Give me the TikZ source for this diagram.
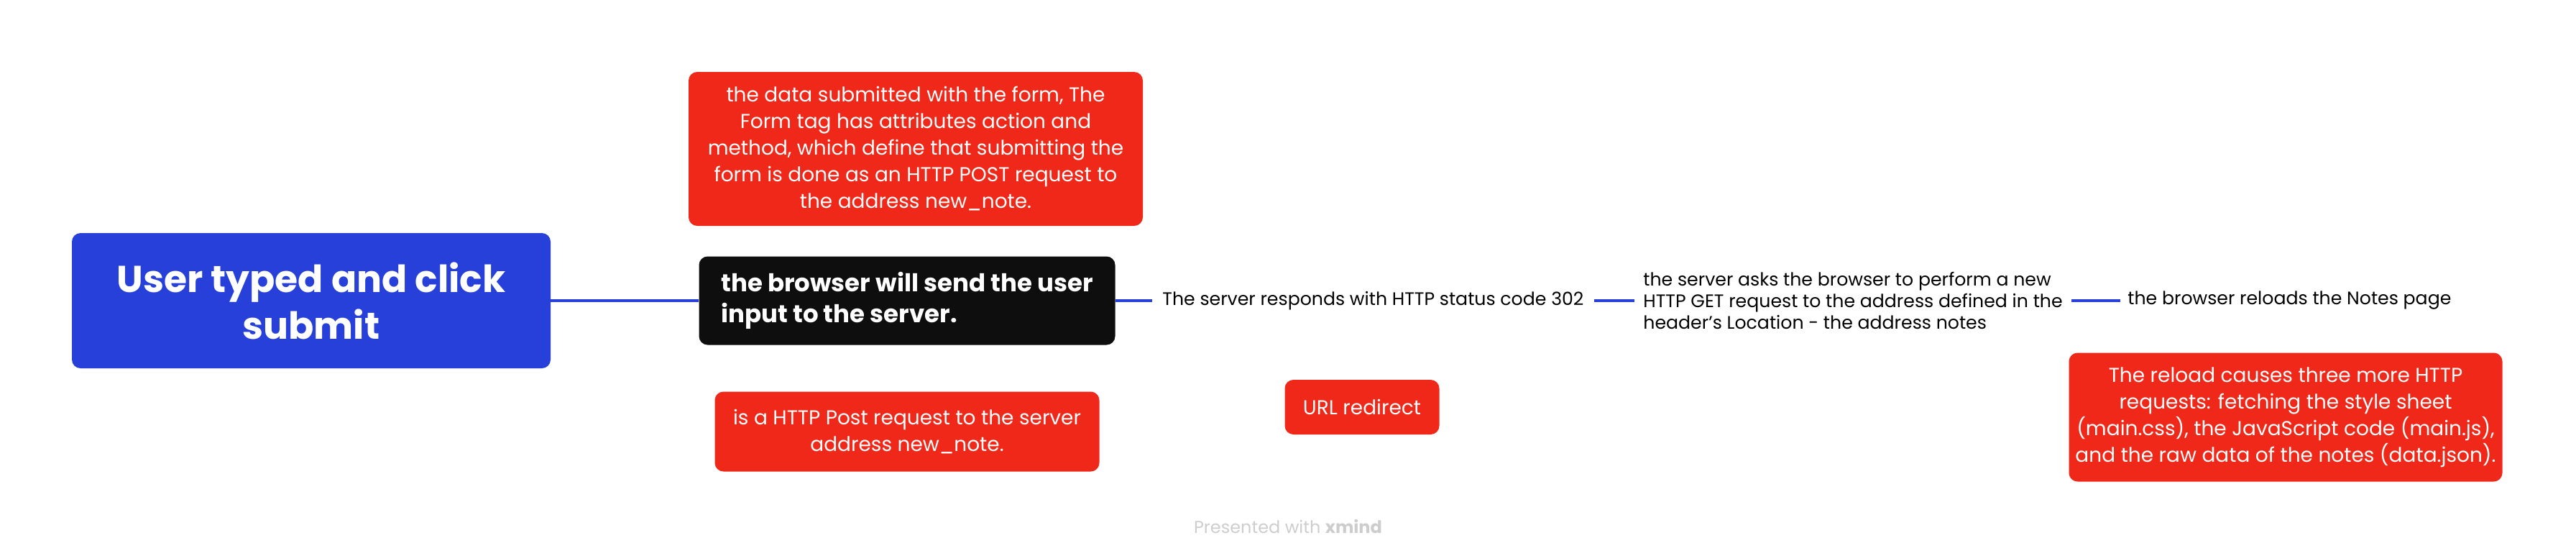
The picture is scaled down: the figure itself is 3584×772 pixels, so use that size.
\documentclass[tikz,border=0pt]{standalone}
\usepackage{fontspec}
\setmainfont{Poppins}
\usetikzlibrary{positioning}

\definecolor{mapblue}{RGB}{39,64,217}
\definecolor{mapred}{RGB}{240,40,25}
\definecolor{mapblack}{RGB}{14,14,14}
\definecolor{credgray}{RGB}{205,205,205}

\begin{document}
\begin{tikzpicture}[x=0.5pt, y=-0.5pt,
    topic/.style={rounded corners=6pt, inner sep=0pt, align=center, text=white},
    notebox/.style={topic, fill=mapred, font=\fontsize{14}{18.5}\selectfont},
    plain/.style={inner xsep=7pt, inner ysep=0pt, anchor=west, align=left, font=\fontsize{12.6}{15.2}\selectfont},
    link/.style={mapblue, line width=2pt}]
\useasboundingbox (0,0) rectangle (3584,772);

% --- Central topic ---
\node[topic, fill=mapblue, minimum width=333pt, minimum height=94pt,
      font=\fontsize{26}{32.5}\selectfont\bfseries] (user) at (433,418)
      {User typed and click\\submit};

% --- Main branch ---
\node[topic, fill=mapblack, align=left, minimum width=289.5pt, minimum height=61.5pt,
      font=\fontsize{17}{21.5}\selectfont\bfseries] (browser) at (1262,418)
      {the browser will send the user\\input to the server.};
\node[plain] (status) at (1603,418) {The server responds with HTTP status code 302};
\node[plain, inner xsep=6pt] (ask) at (2274,418)
      {the server asks the browser to perform a new\\HTTP GET request to the address defined in the\\header's Location - the address notes};
\node[plain, inner xsep=5pt] (reload) at (2950,418) {the browser reloads the Notes page};

\draw[link] (user.east) -- (browser.west);
\draw[link] (browser.east) -- (status.west);
\draw[link] (status.east) -- (ask.west);
\draw[link] (ask.east) -- (reload.west);

% --- Notes (no connectors) ---
\node[notebox, minimum width=316pt, minimum height=107pt] (form) at (1274,207)
      {the data submitted with the form, The\\Form tag has attributes action and\\method, which define that submitting the\\form is done as an HTTP POST request to\\the address new\_note.};
\node[notebox, minimum width=267.5pt, minimum height=55.5pt] (post) at (1262,600)
      {is a HTTP Post request to the server\\address new\_note.};
\node[notebox, minimum width=107.5pt, minimum height=38pt] (redirect) at (1895,566)
      {URL redirect};
\node[notebox, minimum width=301.5pt, minimum height=89.5pt] (requests) at (3180,580)
      {The reload causes three more HTTP\\requests: fetching the style sheet\\(main.css), the JavaScript code (main.js),\\and the raw data of the notes (data.json).};

% --- Footer ---
\node[text=credgray, font=\fontsize{12}{15}\selectfont] (credit) at (1792,732)
      {Presented with \textbf{xmind}};
\end{tikzpicture}
\end{document}
